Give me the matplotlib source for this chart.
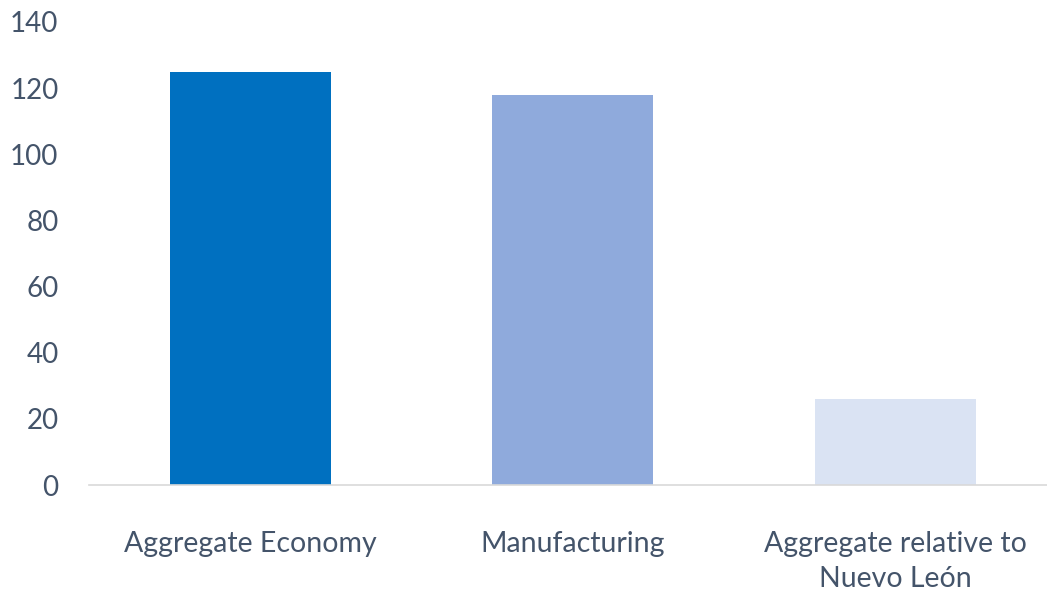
import matplotlib
matplotlib.use("Agg")
import matplotlib.pyplot as plt

categories = ["Aggregate Economy", "Manufacturing", "Aggregate relative to\nNuevo León"]
values = [125, 118, 26]
colors = ["#0070C0", "#8FAADC", "#DAE3F3"]
yticks = [0, 20, 40, 60, 80, 100, 120, 140]

plt.rcParams['font.family'] = ['Lato', 'DejaVu Sans']
text_color = "#44546A"

fig = plt.figure(figsize=(10.47, 5.97), dpi=100)
# left edge 89px, bottom 485px, top 22px, 322.5px per category
ax = fig.add_axes([89 / 1047, 1 - 485 / 597, 967.5 / 1047, 463 / 597])

x = range(len(categories))
ax.bar(x, values, width=0.5, color=colors)

ax.set_xlim(-0.5, 2.5)
ax.set_ylim(0, 140)
ax.set_yticks(yticks)
ax.set_xticks(list(x))
ax.set_xticklabels(categories, fontsize=20.5, color=text_color, linespacing=1.45)
ax.tick_params(axis='y', labelsize=20, labelcolor=text_color, length=0, pad=22)
ax.tick_params(axis='x', length=0, pad=33)

for s in ['top', 'right', 'left']:
    ax.spines[s].set_visible(False)
ax.spines['bottom'].set_color("#D9D9D9")
ax.spines['bottom'].set_linewidth(1.2)

fig.savefig("out.png", dpi=100)
